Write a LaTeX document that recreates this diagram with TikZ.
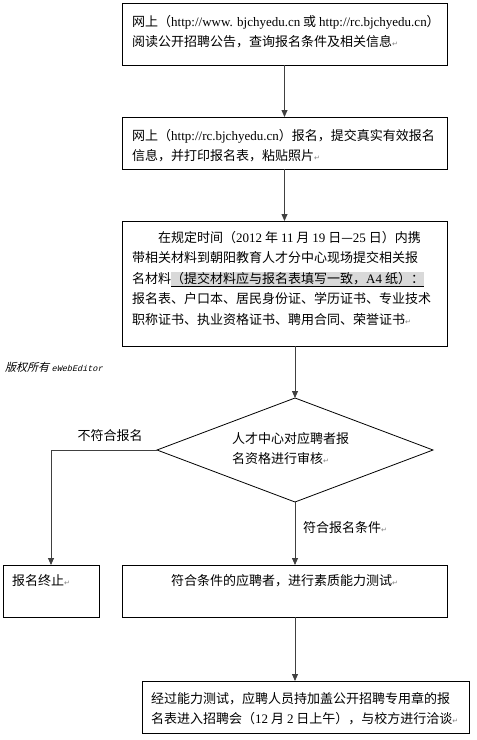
\documentclass[tikz,border=0pt]{standalone}
\usepackage{fontspec}
\setmainfont{Noto Sans CJK SC}
\newfontfamily\latfont{Liberation Serif}
\newfontfamily\markfont{DejaVu Sans}
\newfontfamily\wmfont[FakeSlant=0.25]{Noto Sans CJK SC}
\newfontfamily\wmlat[FakeSlant=0.25]{Liberation Mono}
\usetikzlibrary{arrows.meta,shapes.geometric}
\definecolor{hlgray}{RGB}{217,217,217}
\newcommand{\pmark}{{\markfont\fontsize{7bp}{7bp}\selectfont\textcolor{black!50}{↵}}}
\newcommand{\hlmark}[1]{{\setlength{\fboxsep}{0pt}\colorbox{hlgray}{\underline{#1}}}}
\begin{document}
\begin{tikzpicture}[x=1bp, y=-1bp,
    procbox/.style={draw, line width=0.8bp, inner sep=0pt, outer sep=0pt},
    boxtext/.style={anchor=north west, inner sep=0pt, align=left, font=\fontsize{13bp}{20.5bp}\selectfont},
    flow/.style={draw=black!75, line width=0.8bp, -{Triangle[length=7bp,width=6bp]}}]
  \useasboundingbox (0,0) rectangle (477,740);
  \node[procbox, minimum width=325bp, minimum height=62bp] (b1) at (284.5, 34) {};
  \node[procbox, minimum width=325bp, minimum height=52bp] (b2) at (284.5, 143) {};
  \node[procbox, minimum width=325bp, minimum height=125bp] (b3) at (284.5, 283.5) {};
  \node[procbox, diamond, aspect=2.65, minimum width=276bp, minimum height=104bp] (dia) at (295, 450) {};
  \node[procbox, minimum width=96bp, minimum height=52bp] (stop) at (51, 591) {};
  \node[procbox, minimum width=325bp, minimum height=52bp] (b5) at (284.5, 591) {};
  \node[procbox, minimum width=327bp, minimum height=52bp] (b6) at (305.5, 707) {};
  \node[boxtext] (t1) at ([shift={(10,12)}]b1.north west)
    {网上（{\latfont http://www. bjchyedu.cn} 或 {\latfont http://rc.bjchyedu.cn}）\\
     阅读公开招聘公告，查询报名条件及相关信息\pmark};
  \node[boxtext] (t2) at ([shift={(10,12)}]b2.north west)
    {网上（{\latfont http://rc.bjchyedu.cn}）报名，提交真实有效报名\\
     信息，并打印报名表，粘贴照片\pmark};
  \node[boxtext] (t3) at ([shift={(10,10)}]b3.north west)
    {\hspace{2em}在规定时间（{\latfont 2012} 年 {\latfont 11} 月 {\latfont 19} 日—{\latfont 25} 日）内携\\
     带相关材料到朝阳教育人才分中心现场提交相关报\\
     名材料\hlmark{（提交材料应与报名表填写一致，{\latfont A4} 纸）：}\\
     报名表、户口本、居民身份证、学历证书、专业技术\\
     职称证书、执业资格证书、聘用合同、荣誉证书\pmark};
  \node[boxtext] (tdia) at ([shift={(-63,-18)}]dia.center)
    {人才中心对应聘者报\\
     名资格进行审核\pmark};
  \node[boxtext] (tstop) at ([shift={(9,9)}]stop.north west) {报名终止\pmark};
  \node[boxtext] (t5) at ([shift={(49,9)}]b5.north west) {符合条件的应聘者，进行素质能力测试\pmark};
  \node[boxtext] (t6) at ([shift={(9,11)}]b6.north west)
    {经过能力测试，应聘人员持加盖公开招聘专用章的报\\
     名表进入招聘会（{\latfont 12} 月 {\latfont 2} 日上午），与校方进行洽谈\pmark};
  \node[boxtext, anchor=center] (nofit) at (110, 436) {不符合报名};
  \node[boxtext, anchor=west] (fit) at (303, 528) {符合报名条件\pmark};
  \node[anchor=west, inner sep=0pt] (wm) at (5, 367)
    {\wmfont\fontsize{11bp}{11bp}\selectfont 版权所有 {\wmlat\fontsize{8.5bp}{8.5bp}\selectfont eWebEditor}};
  \draw[flow] (b1) -- (b2);
  \draw[flow] (b2) -- (b3);
  \draw[flow] (b3.south -| dia.north) -- (dia.north);
  \draw[flow] (dia.west) -| (stop.north);
  \draw[flow] (dia.south) -- (b5.north -| dia.south);
  \draw[flow] (b5.south -| dia.south) -- (b6.north -| dia.south);
\end{tikzpicture}
\end{document}
